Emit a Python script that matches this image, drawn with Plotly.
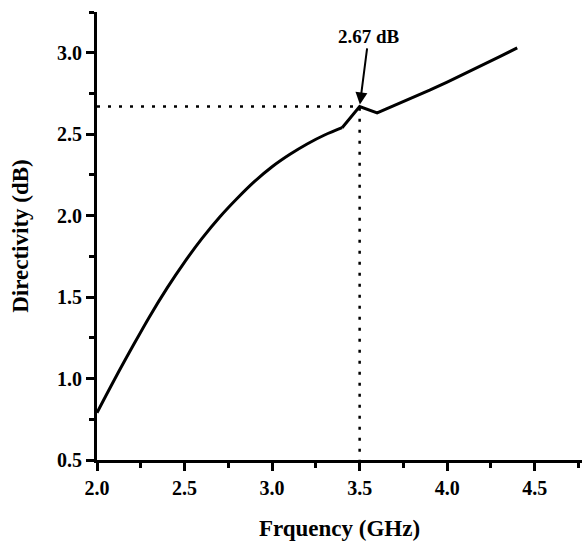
import plotly.graph_objects as go

freq = [2.0, 2.1, 2.2, 2.3, 2.4, 2.5, 2.6, 2.7, 2.8, 2.9, 3.0, 3.1, 3.2, 3.3, 3.4,
        3.5, 3.6, 3.7, 3.8, 3.9, 4.0, 4.1, 4.2, 4.3, 4.4]
directivity = [0.79, 0.994, 1.19, 1.38, 1.555, 1.715, 1.86, 1.99, 2.105, 2.21, 2.30, 2.375,
               2.44, 2.495, 2.54, 2.67, 2.63, 2.675, 2.722, 2.77, 2.82, 2.871, 2.923, 2.976, 3.03]
peak_x = 3.5
peak_y = 2.67
peak_label = "2.67 dB"

FONT = "Liberation Serif"

# split: smooth rising part up to the kink at 3.4, straight segments after
k = freq.index(3.4)

fig = go.Figure()
fig.add_trace(go.Scatter(x=[2.0, peak_x, peak_x], y=[peak_y, peak_y, 0.5], mode="lines",
                         line=dict(color="black", width=2.5, dash="3px,8px"), hoverinfo="skip"))
fig.add_trace(go.Scatter(x=freq[:k + 1], y=directivity[:k + 1], mode="lines",
                         line=dict(color="black", width=3, shape="spline", smoothing=1.0)))
fig.add_trace(go.Scatter(x=freq[k:], y=directivity[k:], mode="lines",
                         line=dict(color="black", width=3)))

fig.add_annotation(x=peak_x, y=peak_y, xref="x", yref="y", text="<b>" + peak_label + "</b>",
                   showarrow=True, arrowhead=2, arrowsize=1.2, arrowwidth=2, arrowcolor="black",
                   ax=9, ay=-70, standoff=2, font=dict(family=FONT, size=19, color="black"))

axis_common = dict(showline=True, linecolor="black", linewidth=3, mirror=False,
                   ticks="outside", ticklen=8, tickwidth=3, tickcolor="black",
                   showgrid=False, zeroline=False,
                   tickfont=dict(family=FONT, size=20, color="black"))

fig.update_xaxes(range=[2.0, 4.77], dtick=0.5, tick0=2.0, tickformat=".1f",
                 minor=dict(ticks="outside", dtick=0.25, ticklen=5, tickwidth=3, tickcolor="black"),
                 title=dict(text="<b>Frquency (GHz)</b>", font=dict(family=FONT, size=23, color="black"), standoff=22),
                 **axis_common)
fig.update_yaxes(range=[0.5, 3.25], dtick=0.5, tick0=0.5, tickformat=".1f",
                 minor=dict(ticks="outside", dtick=0.25, ticklen=5, tickwidth=3, tickcolor="black"),
                 title=dict(text="<b>Directivity (dB)</b>", font=dict(family=FONT, size=23, color="black"), standoff=22),
                 **axis_common)

fig.update_layout(width=582, height=545, margin=dict(l=97, r=0, t=12, b=85),
                  plot_bgcolor="white", paper_bgcolor="white", showlegend=False,
                  font=dict(family=FONT))
fig.update_xaxes(tickprefix="<b>", ticksuffix="</b>")
fig.update_yaxes(tickprefix="<b>", ticksuffix="</b>")

fig.write_html("out.html")
